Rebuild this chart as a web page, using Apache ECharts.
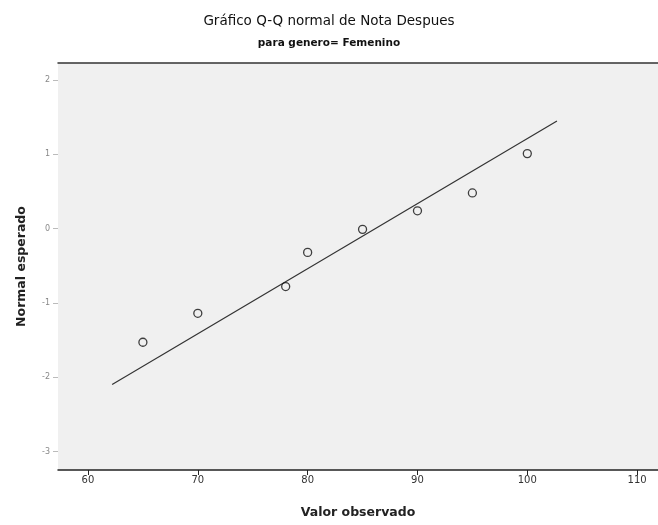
<!DOCTYPE html>
<html>
<head>
<meta charset="utf-8">
<script src="https://cdn.jsdelivr.net/npm/echarts@6/dist/echarts.min.js"></script>
<style>html,body{margin:0;padding:0;background:#fff;}#c{width:658px;height:525px;}</style>
</head>
<body>
<div id="c"></div>
<script>
const titleText = "Gráfico Q-Q normal de Nota Despues";
const subtitleText = "para genero= Femenino";
const xName = "Valor observado";
const yName = "Normal esperado";
const observed = [65, 70, 78, 80, 85, 90, 95, 100];
const expected = [-1.53, -1.14, -0.78, -0.32, -0.01, 0.24, 0.48, 1.01];
const lineX = [62.2, 102.7];
const lineY = [-2.10, 1.45];
const xTicks = [60, 70, 80, 90, 100, 110];
const yTicks = [-3, -2, -1, 0, 1, 2];

const chart = echarts.init(document.getElementById('c'), null, {renderer: 'canvas'});
const pts = observed.map((v, i) => [v, expected[i]]);
const ln = lineX.map((v, i) => [v, lineY[i]]);
chart.setOption({
  animation: false,
  backgroundColor: '#ffffff',
  title: [
    {text: titleText, left: 'center', top: 9, textStyle: {fontFamily: 'DejaVu Sans', fontSize: 13.5, fontWeight: 'normal', color: '#111'}},
    {text: subtitleText, left: 'center', top: 33, textStyle: {fontFamily: 'DejaVu Sans', fontSize: 10.5, fontWeight: 'bold', color: '#111'}}
  ],
  grid: {left: 58, right: 0, top: 63, bottom: 55, show: true, backgroundColor: '#f0f0f0', borderWidth: 0},
  xAxis: [{
    type: 'value', min: 57.27, max: 111.9, position: 'bottom',
    name: xName, nameLocation: 'middle', nameGap: 36,
    nameTextStyle: {fontFamily: 'DejaVu Sans', fontSize: 12.5, fontWeight: 'bold', color: '#222'},
    axisLine: {show: true, onZero: false, lineStyle: {color: '#222', width: 1.5}},
    axisTick: {show: true, length: 5, lineStyle: {color: '#222'}, customValues: xTicks},
    axisLabel: {fontFamily: 'DejaVu Sans', fontSize: 10, color: '#333', margin: 5, customValues: xTicks},
    splitLine: {show: false}
  }, {
    type: 'value', min: 57.27, max: 111.9, position: 'top',
    axisLine: {show: true, onZero: false, lineStyle: {color: '#333', width: 1.5}},
    axisTick: {show: false}, axisLabel: {show: false}, splitLine: {show: false}
  }],
  yAxis: {
    type: 'value', min: -3.25, max: 2.23,
    name: yName, nameLocation: 'middle', nameGap: 30, nameRotate: 90,
    nameTextStyle: {fontFamily: 'DejaVu Sans', fontSize: 12.5, fontWeight: 'bold', color: '#222'},
    axisLine: {show: false, onZero: false},
    axisTick: {show: true, length: 5, lineStyle: {color: '#bbb'}, customValues: yTicks},
    axisLabel: {fontFamily: 'DejaVu Sans', fontSize: 8, color: '#888', margin: 8, customValues: yTicks},
    splitLine: {show: false}
  },
  series: [
    {type: 'line', data: ln, symbol: 'none', lineStyle: {color: '#333', width: 1.2}, z: 2},
    {type: 'scatter', data: pts, symbol: 'circle', symbolSize: 8,
     itemStyle: {color: 'rgba(0,0,0,0)', borderColor: '#111', borderWidth: 1.3}, z: 3}
  ]
});
</script>
</body>
</html>
